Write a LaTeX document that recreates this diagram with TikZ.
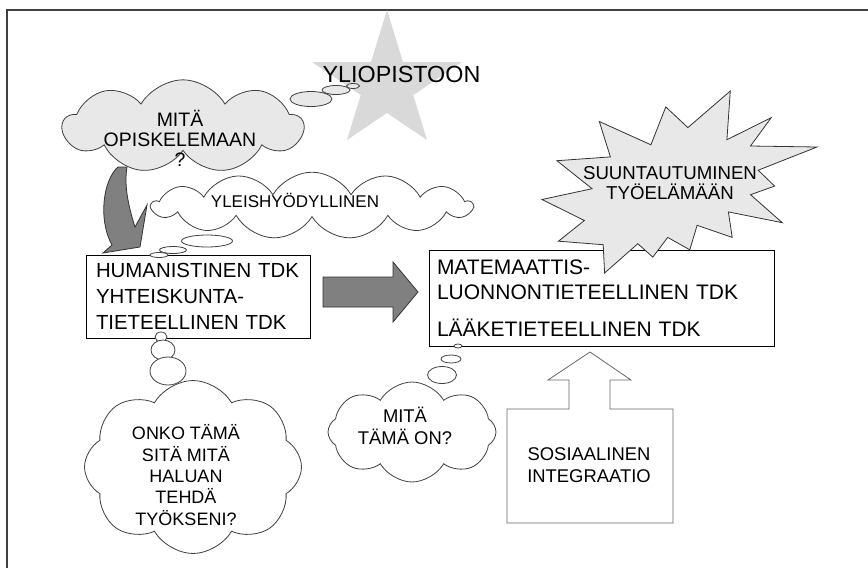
\documentclass[tikz,border=0pt]{standalone}
\usepackage{fontspec}
\setmainfont{Liberation Sans}
\usetikzlibrary{shapes.geometric, shapes.symbols}
\definecolor{starcolor}{RGB}{217,217,217}
\definecolor{puffcolor}{RGB}{232,232,232}
\definecolor{arrowcolor}{RGB}{128,128,128}

\begin{document}
\begin{tikzpicture}[
  x=0.75pt, y=-0.75pt,
  frame/.style={draw=black!75, line width=1.1pt},
  thought/.style={cloud, cloud puffs=9, cloud puff arc=120, cloud ignores aspect,
                  draw=black!75, line width=0.6pt, inner sep=0pt},
  bub/.style={ellipse, draw=black!75, line width=0.6pt, inner sep=0pt},
  faculty/.style={draw, line width=0.6pt, fill=white, align=left, inner ysep=2pt},
  label/.style={align=center, inner sep=0pt},
  blockarr/.style={draw=black!80, line width=0.6pt, fill=arrowcolor},
  openarr/.style={draw=black!60, line width=0.6pt, fill=white}
]
\useasboundingbox (0,0) rectangle (868,568);
\fill[white] (0,0) rectangle (868,568);
\draw[frame] (7,568) -- (7,10) -- (868,10);

% star and title
\fill[starcolor] (387,10) -- (403,62) -- (462,62) -- (413.2,95.1) -- (427,140)
  -- (387,112.9) -- (347,140) -- (360.8,95.1) -- (312,62) -- (371,62) -- cycle;
\node[label, font=\fontsize{17.5}{21}\selectfont] (uni) at (401.5,74) {YLIOPISTOON};

% curved arrow down
\draw[blockarr] (118,167) .. controls (103,180) and (98,220) .. (112,245)
  -- (103,253) -- (140,247) -- (147,205) -- (135,227)
  .. controls (128,205) and (124,185) .. (127,167) -- cycle;

% first thought
\node[thought, fill=puffcolor, minimum width=180pt, minimum height=70pt] (what) at (183,126.5) {};
\node[bub, fill=puffcolor, minimum width=31.5pt, minimum height=11.25pt] (what1) at (311,99) {};
\node[bub, fill=puffcolor, minimum width=21pt, minimum height=6.75pt] (what2) at (336,90) {};
\node[bub, fill=puffcolor, minimum width=9.75pt, minimum height=3.75pt] (what3) at (353,86) {};
\node[label, font=\fontsize{14.6}{15}\selectfont] (whatt) at (180,138) {MITÄ\\OPISKELEMAAN\\?};

% general thought
\node[thought, fill=white, cloud puffs=13, minimum width=240pt, minimum height=50pt] (gen) at (312,205.5) {};
\node[bub, fill=white, minimum width=38.25pt, minimum height=9pt] (gen1) at (207,241) {};
\node[bub, fill=white, minimum width=20.25pt, minimum height=5.25pt] (gen2) at (173,250) {};
\node[label, font=\fontsize{12.75}{15}\selectfont] (gent) at (295,200) {YLEISHYÖDYLLINEN};

% faculties
\node[faculty, minimum height=62.25pt, text width=153pt, inner xsep=7.5pt,
      font=\fontsize{15.3}{19.5}\selectfont] (hum) at (198,296.5)
      {HUMANISTINEN TDK\\YHTEISKUNTA-\\TIETEELLINEN TDK};
\node[bub, fill=white, minimum width=13.5pt, minimum height=3.75pt] (gen3) at (159,255) {};
\node[faculty, minimum height=72pt, text width=246.75pt, inner xsep=6pt,
      font=\fontsize{15.75}{18.75}\selectfont] (mat) at (601.5,298)
      {MATEMAATTIS-\\LUONNONTIETEELLINEN TDK\\[9pt]LÄÄKETIETEELLINEN TDK};

% big arrow right
\draw[blockarr] (323,277) -- (393,277) -- (393,262) -- (418,292) -- (393,322)
  -- (393,307) -- (323,307) -- cycle;

% work life
\draw[draw=black!80, line width=0.6pt, fill=puffcolor]
  (687.9,127.6) -- (665.8,106.9) -- (650.9,144.8) -- (599.3,121.5) -- (610.4,156.9)
  -- (556.9,160.7) -- (592.1,188.7) -- (542,199.5) -- (584.4,220.5) -- (558.4,241.2)
  -- (603.2,244.7) -- (604.6,273) -- (637.8,243.7) -- (652.8,257.1) -- (667.7,237.4)
  -- (689.8,249.8) -- (697.1,225.3) -- (732.2,237.4) -- (728.4,211.9) -- (782.3,222.7)
  -- (750.5,194.7) -- (774.6,186.1) -- (758.2,170.2) -- (817,147) -- (750.5,146)
  -- (771.2,117.7) -- (726.9,139.7) -- (730.3,91) -- cycle;
\node[label, font=\fontsize{14}{15}\selectfont] (work) at (670,183) {SUUNTAUTUMINEN\\TYÖELÄMÄÄN};

% doubt thought
\node[bub, fill=white, minimum width=9pt, minimum height=7.5pt] (doubt1) at (161,337) {};
\node[bub, fill=white, minimum width=18pt, minimum height=15pt] (doubt2) at (163,350) {};
\node[bub, fill=white, minimum width=27pt, minimum height=21pt] (doubt3) at (168,371) {};
\node[thought, fill=white, cloud puffs=8, minimum width=162.75pt, minimum height=129.75pt] (doubt) at (193,467) {};
\node[label, font=\fontsize{13.5}{16}\selectfont] (doubtt) at (186,475)
      {ONKO TÄMÄ\\SITÄ MITÄ\\HALUAN\\TEHDÄ\\TYÖKSENI?};

% what is this thought
\node[bub, fill=white, minimum width=6pt, minimum height=3pt] (this1) at (458,346) {};
\node[bub, fill=white, minimum width=15pt, minimum height=6pt] (this2) at (451,359) {};
\node[bub, fill=white, minimum width=21.75pt, minimum height=12.75pt] (this3) at (442,375) {};
\node[thought, fill=white, cloud puffs=8, minimum width=126pt, minimum height=75pt] (this) at (412,432) {};
\node[label, font=\fontsize{13.8}{16.5}\selectfont] (thist) at (405,426) {MITÄ\\TÄMÄ ON?};

% social integration
\draw[openarr] (590,352) -- (631,380) -- (610,380) -- (610,409) -- (673,409) -- (673,523)
  -- (507,523) -- (507,409) -- (569,409) -- (569,380) -- (548,380) -- cycle;
\node[label, font=\fontsize{13.8}{16.5}\selectfont] (soc) at (589,465) {SOSIAALINEN\\INTEGRAATIO};
\end{tikzpicture}
\end{document}
